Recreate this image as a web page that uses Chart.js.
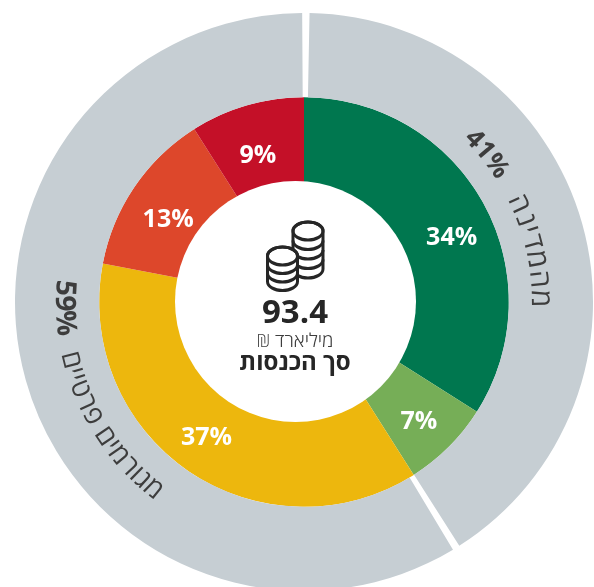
<!DOCTYPE html>
<html><head><meta charset="utf-8">
<style>html,body{margin:0;padding:0;background:#fff;overflow:hidden;width:594px;height:587px}canvas{position:absolute;left:0;top:0}</style>
<script src="https://cdn.jsdelivr.net/npm/chart.js@4"></script></head>
<body><canvas id="c" width="608" height="604" style="width:608px;height:604px"></canvas>
<script>
const innerCategories = ['34','7','37','13','9'];
const innerValues = [34, 7, 37, 13, 9];
const innerColors = ['#00774f', '#76ae57', '#edb70d', '#dd472b', '#c41028'];
const outerValues = [41, 59];
const outerNames = ['מהמדינה', 'מגורמים פרטיים'];
const totalValue = '93.4';
const totalUnit = 'מיליארד ₪';
const totalTitle = 'סך הכנסות';
const FONT = '"Open Sans", sans-serif';
const DARK = '#3d3d3d';

function arcText(ctx, c, runs, startDeg, r, cw) {
  let th = startDeg * Math.PI / 180;
  const sign = cw ? 1 : -1;
  ctx.textAlign = 'center'; ctx.textBaseline = 'alphabetic'; ctx.fillStyle = DARK;
  for (const run of runs) {
    ctx.font = run.font;
    for (const ch of run.chars) {
      const w = ctx.measureText(ch).width + (run.track || 0);
      const mid = th + sign * (w / 2) / r;
      ctx.save();
      ctx.translate(c.x + r * Math.sin(mid), c.y - r * Math.cos(mid));
      ctx.rotate(cw ? mid : mid + Math.PI);
      ctx.fillText(ch, 0, 0);
      ctx.restore();
      th += sign * w / r;
    }
    th += sign * (run.gap || 0) / r;
  }
}
function coinStack(ctx, x, yTop, rx, ry, step, n) {
  const top = yTop, bot = yTop + step * n;
  ctx.beginPath(); ctx.fillStyle = '#fff';
  ctx.ellipse(x, bot, rx, ry, 0, 0, Math.PI); ctx.lineTo(x - rx, top);
  ctx.ellipse(x, top, rx, ry, 0, Math.PI, 2 * Math.PI); ctx.closePath(); ctx.fill(); ctx.stroke();
  ctx.beginPath(); ctx.ellipse(x, top, rx, ry, 0, 0, Math.PI * 2); ctx.stroke();
  for (let i = 1; i < n; i++) { ctx.beginPath(); ctx.ellipse(x, top + step * i, rx, ry, 0, 0, Math.PI); ctx.stroke(); }
}
const overlay = {
  id: 'overlay',
  afterDatasetsDraw(chart) {
    const ctx = chart.ctx;
    const arcs = chart.getDatasetMeta(1).data;
    const c = { x: arcs[0].x, y: arcs[0].y };
    const hx = c.x - 8.5, hy = c.y - 0.5;
    ctx.save();
    ctx.fillStyle = '#fff';
    ctx.beginPath(); ctx.arc(hx, hy, 120.5, 0, Math.PI * 2); ctx.fill();
    const nudge = [4.5, 0.5, 2, -2.3, -1];
    const rad = [162, 164, 165, 160, 156];
    ctx.fillStyle = '#fff'; ctx.font = 'bold 25px ' + FONT;
    ctx.textAlign = 'center'; ctx.textBaseline = 'middle';
    arcs.forEach((a, i) => {
      const m = (a.startAngle + a.endAngle) / 2 + nudge[i] * Math.PI / 180;
      ctx.fillText(innerValues[i] + '%', c.x + rad[i] * Math.cos(m), c.y + rad[i] * Math.sin(m) + 2.5);
    });
    const heb = s => [...s].reverse();
    arcText(ctx, c, [
      { chars: [...(outerValues[0] + '%')], font: 'bold 26px ' + FONT, gap: 21 },
      { chars: heb(outerNames[0]), font: '28px ' + FONT, track: 1.5 }
    ], 44.4, 228, true);
    arcText(ctx, c, [
      { chars: [...(outerValues[1] + '%')], font: 'bold 28px ' + FONT, gap: 17 },
      { chars: heb(outerNames[1]), font: '27px ' + FONT, track: 0.5 }
    ], 275.2, 248, false);
    ctx.strokeStyle = '#262626'; ctx.lineWidth = 3;
    coinStack(ctx, 308, 231, 15, 9, 9.5, 4);
    coinStack(ctx, 282.5, 256, 15, 9, 8.5, 3);
    ctx.textAlign = 'center'; ctx.textBaseline = 'alphabetic'; ctx.fillStyle = '#262626';
    ctx.direction = 'ltr'; ctx.font = 'bold 33px ' + FONT;
    ctx.fillText(totalValue, 295, 323);
    ctx.direction = 'rtl'; ctx.font = '300 19px ' + FONT; ctx.fillStyle = '#3d3d3d';
    ctx.fillText(totalUnit, 295, 347);
    ctx.font = 'bold 24px ' + FONT; ctx.fillStyle = '#262626';
    ctx.fillText(totalTitle, 295, 370);
    ctx.restore();
  }
};
new Chart(document.getElementById('c'), {
  type: 'doughnut',
  plugins: [overlay],
  data: {
    labels: innerCategories,
    datasets: [
      { data: outerValues, backgroundColor: ['#c6ced3', '#c6ced3'], borderWidth: 0, spacing: 4, weight: 84, rotation: 0.5, radius: 287, cutout: '34%' },
      { data: innerValues, backgroundColor: innerColors, borderWidth: 0, spacing: 0, weight: 105, radius: 289, cutout: '34.5%' }
    ]
  },
  options: {
    responsive: false, animation: false,
    layout: { padding: 0 },
    plugins: { legend: { display: false }, tooltip: { enabled: false } }
  }
});
</script></body></html>
